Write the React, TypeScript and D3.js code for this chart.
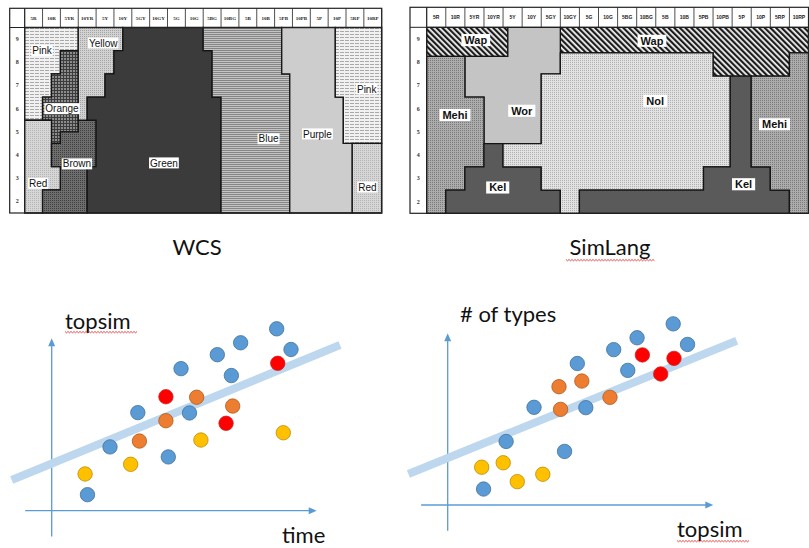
import React from 'react';
import * as d3 from 'd3';

type Pt = [number, number];

// Munsell chart headers (hue columns) and rows (value), shared by both naming charts
const hueLabels = ['5R', '10R', '5YR', '10YR', '5Y', '10Y', '5GY', '10GY', '5G', '10G', '5BG', '10BG', '5B', '10B', '5PB', '10PB', '5P', '10P', '5RP', '10RP'];
const valueLabels = ['9', '8', '7', '6', '5', '4', '3', '2'];

// WCS english terms. vertices are [hue column, value row from top]
const wcsNames = ['Pink', 'Orange', 'Red', 'Brown', 'Yellow', 'Green', 'Blue', 'Purple', 'Pink', 'Red'];
const wcsShapes: Pt[][] = [
  [[0, 0], [3, 0], [3, 1], [2, 1], [2, 2], [1.5, 2], [1.5, 3], [1, 3], [1, 4], [0, 4]],
  [[2, 1], [3, 1], [3, 4.5], [2, 4.5], [2, 5], [1.5, 5], [1.5, 4], [1, 4], [1, 3], [1.5, 3], [1.5, 2], [2, 2]],
  [[0, 4], [1.5, 4], [1.5, 6], [2, 6], [2, 7], [1, 7], [1, 8], [0, 8]],
  [[3, 4], [4, 4], [4, 6], [3.5, 6], [3.5, 8], [1, 8], [1, 7], [2, 7], [2, 6], [1.5, 6], [1.5, 5], [2, 5], [2, 4.5], [3, 4.5]],
  [[3, 0], [5.5, 0], [5.5, 1], [5, 1], [5, 2], [4.5, 2], [4.5, 3], [3.5, 3], [3.5, 4], [3, 4]],
  [[5.5, 0], [10, 0], [10, 1], [10.5, 1], [10.5, 3], [11, 3], [11, 8], [3.5, 8], [3.5, 6], [4, 6], [4, 4], [3.5, 4], [3.5, 3], [4.5, 3], [4.5, 2], [5, 2], [5, 1], [5.5, 1]],
  [[10, 0], [14.4, 0], [14.4, 2], [14.85, 2], [14.85, 8], [11, 8], [11, 3], [10.5, 3], [10.5, 1], [10, 1]],
  [[14.4, 0], [17.4, 0], [17.4, 3], [17.85, 3], [17.85, 5], [18.35, 5], [18.35, 8], [14.85, 8], [14.85, 2], [14.4, 2]],
  [[17.4, 0], [20, 0], [20, 5], [17.85, 5], [17.85, 3], [17.4, 3]],
  [[18.35, 5], [20, 5], [20, 8], [18.35, 8]],
];
const wcsLabelPos: Pt[] = [[0.97, 1.0], [2.09, 3.5], [0.76, 6.72], [2.93, 5.88], [4.4, 0.67], [7.8, 5.84], [13.66, 4.8], [16.4, 4.59], [19.16, 2.65], [19.2, 6.88]];

// SimLang emergent terms, same units
const simNames = ['Wap', 'Wap', 'Wor', 'Mehi', 'Kel', 'Nol', 'Kel', 'Mehi'];
const simShapes: Pt[][] = [
  [[0, 0], [4.25, 0], [4.25, 1.25], [0, 1.25]],
  [[7, 0], [20, 0], [20, 1.1], [19, 1.1], [19, 2.1], [15, 2.1], [15, 1.1], [7, 1.1]],
  [[4.25, 0], [7, 0], [7, 2], [6, 2], [6, 5], [3, 5], [3, 3], [2, 3], [2, 1.25], [4.25, 1.25]],
  [[0, 1.25], [2, 1.25], [2, 3], [3, 3], [3, 6], [2, 6], [2, 7], [1, 7], [1, 8], [0, 8]],
  [[3, 5], [4, 5], [4, 6], [6, 6], [6, 7], [7, 7], [7, 8], [1, 8], [1, 7], [2, 7], [2, 6], [3, 6]],
  [[7, 1.1], [15, 1.1], [15, 2.1], [15.9, 2.1], [15.9, 6], [14.5, 6], [14.5, 7], [8, 7], [8, 8], [7, 8], [7, 7], [6, 7], [6, 6], [4, 6], [4, 5], [6, 5], [6, 2], [7, 2]],
  [[8, 7], [14.5, 7], [14.5, 6], [15.9, 6], [15.9, 2.1], [17, 2.1], [17, 6], [18, 6], [18, 7], [19, 7], [19, 8], [8, 8]],
  [[17, 2.1], [19, 2.1], [19, 1.1], [20, 1.1], [20, 8], [19, 8], [19, 7], [18, 7], [18, 6], [17, 6]],
];
const simLabelPos: Pt[] = [[2.57, 0.55], [11.8, 0.58], [4.98, 3.59], [1.48, 3.77], [3.72, 6.89], [11.97, 3.16], [16.6, 6.75], [18.22, 4.17]];

// sketch scatter plots (arbitrary units 0-10 on each axis)
const bluePoints: Pt[] = [[1.35, 0.93], [2.2, 3.7], [3.25, 5.69], [4.4, 3.12], [4.88, 8.24], [5.2, 5.67], [6.25, 9.05], [6.78, 7.84], [7.13, 9.74], [8.49, 10.55], [9.03, 9.35]];
const timeRed: Pt[] = [[4.31, 6.61], [6.58, 5.07], [8.53, 8.55]];
const timeOrange: Pt[] = [[3.31, 4.04], [4.31, 5.22], [5.47, 6.58], [6.83, 6.07]];
const timeYellow: Pt[] = [[1.26, 2.13], [2.98, 2.69], [5.63, 4.1], [8.74, 4.52]];
const timeTrend: Pt[] = [[-1.51, 1.78], [10.88, 9.61]];
const typesRed: Pt[] = [[7.33, 8.74], [8.02, 7.63], [8.52, 8.54]];
const typesOrange: Pt[] = [[4.19, 6.89], [5.05, 7.22], [4.25, 5.57], [6.11, 6.27]];
const typesYellow: Pt[] = [[1.28, 2.2], [2.09, 2.46], [2.62, 1.36], [3.58, 1.79]];
const typesTrend: Pt[] = [[-1.48, 1.81], [10.88, 9.57]];

const fillOf: Record<string, string> = {
  Pink: 'url(#pinkPat)', Orange: 'url(#crossPat)', Red: 'url(#redPat)', Brown: 'url(#brownPat)',
  Yellow: 'url(#yellowPat)', Green: '#3b3b3b', Blue: 'url(#bluePat)', Purple: '#cdcdcd',
  Wap: 'url(#wapPat)', Wor: '#c4c4c4', Mehi: 'url(#mehiPat)', Kel: '#5a5a5a', Nol: 'url(#nolPat)',
};

const ctx = document.createElement('canvas').getContext('2d');
function textW(t: string, font: string) {
  if (!ctx) return t.length * 6;
  ctx.font = font;
  return ctx.measureText(t).width;
}

function squiggle(x1: number, x2: number, y: number) {
  let d = `M${x1},${y}`;
  for (let x = x1 + 1.5, k = 0; x <= x2; x += 1.5, k++) d += `L${x},${y + (k % 2 ? 0 : 1.3)}`;
  return d;
}

function NamingChart(props: any) {
  const { left, top, right, bottom, headBottom, gridLeft, names, shapes, labelPos, serif, bold } = props;
  const xs = d3.scaleLinear().domain([0, hueLabels.length]).range([gridLeft, right]);
  const ys = d3.scaleLinear().domain([0, valueLabels.length]).range([headBottom, bottom]);
  const path = d3.line<Pt>().x(d => xs(d[0])).y(d => ys(d[1])).curve(d3.curveLinearClosed);
  const headFont = serif ? 'Liberation Serif' : 'Liberation Sans';
  const lblSize = bold ? 11 : 10;
  const lblFont = `${bold ? 'bold ' : ''}${lblSize}px "Liberation Sans"`;
  return (
    <g>
      <rect x={left} y={top} width={right - left} height={bottom - top} fill="#fff" />
      {shapes.map((s: Pt[], i: number) => (
        <path key={i} d={path(s) || ''} fill={fillOf[names[i]]} stroke="#141414" strokeWidth={1.3} />
      ))}
      {d3.range(hueLabels.length + 1).map(i => (
        <line key={i} x1={xs(i)} x2={xs(i)} y1={top} y2={headBottom} stroke="#222" strokeWidth={0.8} />
      ))}
      {hueLabels.map((h, i) => (
        <text key={h} x={xs(i + 0.5)} y={(top + headBottom) / 2 + 1.8} textAnchor="middle"
          fontSize={5} fontWeight="bold" fontFamily={headFont} fill="#222">{h}</text>
      ))}
      {valueLabels.map((v, i) => (
        <text key={v} x={(left + gridLeft) / 2} y={ys(i + 0.5) + 2} textAnchor="middle"
          fontSize={6} fontWeight="bold" fontFamily="Liberation Serif" fill="#333">{v}</text>
      ))}
      <line x1={left} x2={right} y1={headBottom} y2={headBottom} stroke="#222" strokeWidth={1} />
      <line x1={gridLeft} x2={gridLeft} y1={top} y2={bottom} stroke="#222" strokeWidth={1} />
      <rect x={left} y={top} width={right - left} height={bottom - top} fill="none" stroke="#222" strokeWidth={1.2} />
      {names.map((n: string, i: number) => {
        const w = textW(n, lblFont) + (bold ? 6 : 2);
        const cx = xs(labelPos[i][0]);
        const cy = ys(labelPos[i][1]);
        return (
          <g key={i}>
            <rect x={cx - w / 2} y={cy - lblSize * 0.55} width={w} height={lblSize * 1.1} fill="#fff" />
            <text x={cx} y={cy + lblSize * 0.36} textAnchor="middle" fontSize={lblSize}
              fontWeight={bold ? 'bold' : 'normal'} fontFamily="Liberation Sans" fill="#111">{n}</text>
          </g>
        );
      })}
    </g>
  );
}

const dotStyle: Record<string, [string, string]> = {
  blue: ['#5b9bd5', '#41719c'],
  red: ['#ff0000', '#d02020'],
  orange: ['#ed7d31', '#ae5a21'],
  yellow: ['#ffc000', '#bc8c00'],
};

function Scatter(props: any) {
  const { ox, oy, tx, ty, trend, series, yLabel, yLabelAt, xLabel, xLabelAt, squigX, squigY } = props;
  const xs = d3.scaleLinear().domain([0, 10]).range([ox, tx]);
  const ys = d3.scaleLinear().domain([0, 10]).range([oy, ty]);
  const ln = d3.line<Pt>().x(d => xs(d[0])).y(d => ys(d[1]));
  const axis = '#5b9bd5';
  return (
    <g>
      <line x1={xs(-1)} x2={xs(10) - 6} y1={ys(0)} y2={ys(0)} stroke={axis} strokeWidth={1.3} />
      <path d={`M${xs(10)},${ys(0)}L${xs(10) - 8},${ys(0) - 3.5}L${xs(10) - 8},${ys(0) + 3.5}Z`} fill={axis} />
      <line x1={xs(0)} x2={xs(0)} y1={ys(-1.5)} y2={ys(10) + 6} stroke={axis} strokeWidth={1.3} />
      <path d={`M${xs(0)},${ys(10)}L${xs(0) - 3.5},${ys(10) + 8}L${xs(0) + 3.5},${ys(10) + 8}Z`} fill={axis} />
      <path d={ln(trend) || ''} stroke="#bdd7ee" strokeWidth={8} fill="none" />
      {series.map(([key, pts]: [string, Pt[]]) =>
        pts.map((p, i) => (
          <circle key={key + i} cx={xs(p[0])} cy={ys(p[1])} r={7.2}
            fill={dotStyle[key][0]} stroke={dotStyle[key][1]} strokeWidth={0.8} />
        ))
      )}
      <text x={yLabelAt[0]} y={yLabelAt[1]} fontSize={22} fontFamily="Lato" fill="#111">{yLabel}</text>
      <text x={xLabelAt[0]} y={xLabelAt[1]} fontSize={22} fontFamily="Lato" fill="#111">{xLabel}</text>
      <path d={squiggle(squigX[0], squigX[1], squigY)} stroke="#e02020" strokeWidth={0.8} fill="none" />
    </g>
  );
}

export default function App() {
  return (
    <svg width={809} height={548} style={{ position: 'absolute', left: 0, top: 0, background: '#fff' }}>
      <defs>
        <pattern id="pinkPat" width="5" height="3" patternUnits="userSpaceOnUse">
          <rect width="5" height="3" fill="#f1f1f1" />
          <rect y="1" width="4" height="1" fill="#a9a9a9" />
        </pattern>
        <pattern id="crossPat" width="3" height="3" patternUnits="userSpaceOnUse">
          <rect width="3" height="3" fill="#8c8c8c" />
          <rect width="1" height="3" fill="#3c3c3c" />
          <rect width="3" height="1" fill="#3c3c3c" />
        </pattern>
        <pattern id="redPat" width="2" height="2" patternUnits="userSpaceOnUse">
          <rect width="2" height="2" fill="#d6d6d6" />
          <rect width="1" height="1" fill="#b4b4b4" />
        </pattern>
        <pattern id="yellowPat" width="2" height="2" patternUnits="userSpaceOnUse">
          <rect width="2" height="2" fill="#d2d2d2" />
          <rect width="1" height="1" fill="#a4a4a4" />
        </pattern>
        <pattern id="brownPat" width="2" height="2" patternUnits="userSpaceOnUse">
          <rect width="2" height="2" fill="#6e6e6e" />
          <rect width="1" height="1" fill="#3e3e3e" />
        </pattern>
        <pattern id="bluePat" width="4" height="2" patternUnits="userSpaceOnUse">
          <rect width="4" height="2" fill="#c4c4c4" />
          <rect width="4" height="1" fill="#858585" />
        </pattern>
        <pattern id="wapPat" width="4" height="4" patternUnits="userSpaceOnUse" patternTransform="rotate(-45)">
          <rect width="4" height="4" fill="#f4f4f4" />
          <rect width="2.2" height="4" fill="#1c1c1c" />
        </pattern>
        <pattern id="mehiPat" width="2" height="2" patternUnits="userSpaceOnUse">
          <rect width="2" height="2" fill="#acacac" />
          <rect width="1" height="1" fill="#7a7a7a" />
        </pattern>
        <pattern id="nolPat" width="2" height="2" patternUnits="userSpaceOnUse">
          <rect width="2" height="2" fill="#e2e2e2" />
          <rect width="1" height="1" fill="#b0b0b0" />
        </pattern>
      </defs>

      <NamingChart left={9.7} top={8.3} right={381.7} bottom={213} headBottom={27.5} gridLeft={24.7}
        names={wcsNames} shapes={wcsShapes} labelPos={wcsLabelPos} serif bold={false} />
      <NamingChart left={410} top={7.3} right={808.5} bottom={213.3} headBottom={27.3} gridLeft={426.7}
        names={simNames} shapes={simShapes} labelPos={simLabelPos} serif={false} bold />

      <text x={197} y={255} textAnchor="middle" fontSize={22} fontFamily="Lato" fill="#111">WCS</text>
      <text x={610} y={255} textAnchor="middle" fontSize={22} fontFamily="Lato" fill="#111">SimLang</text>
      <path d={squiggle(566, 655, 259.5)} stroke="#e02020" strokeWidth={0.8} fill="none" />

      <Scatter ox={51.7} oy={510.7} tx={316.7} ty={338.3} trend={timeTrend}
        series={[['blue', bluePoints], ['red', timeRed], ['orange', timeOrange], ['yellow', timeYellow]]}
        yLabel="topsim" yLabelAt={[65, 329]} xLabel="time" xLabelAt={[282, 543]}
        squigX={[65, 138]} squigY={331.5} />
      <Scatter ox={447.7} oy={505} tx={713.3} ty={333.3} trend={typesTrend}
        series={[['blue', bluePoints], ['red', typesRed], ['orange', typesOrange], ['yellow', typesYellow]]}
        yLabel="# of types" yLabelAt={[460, 322]} xLabel="topsim" xLabelAt={[677, 537]}
        squigX={[677, 750]} squigY={540.5} />
    </svg>
  );
}
